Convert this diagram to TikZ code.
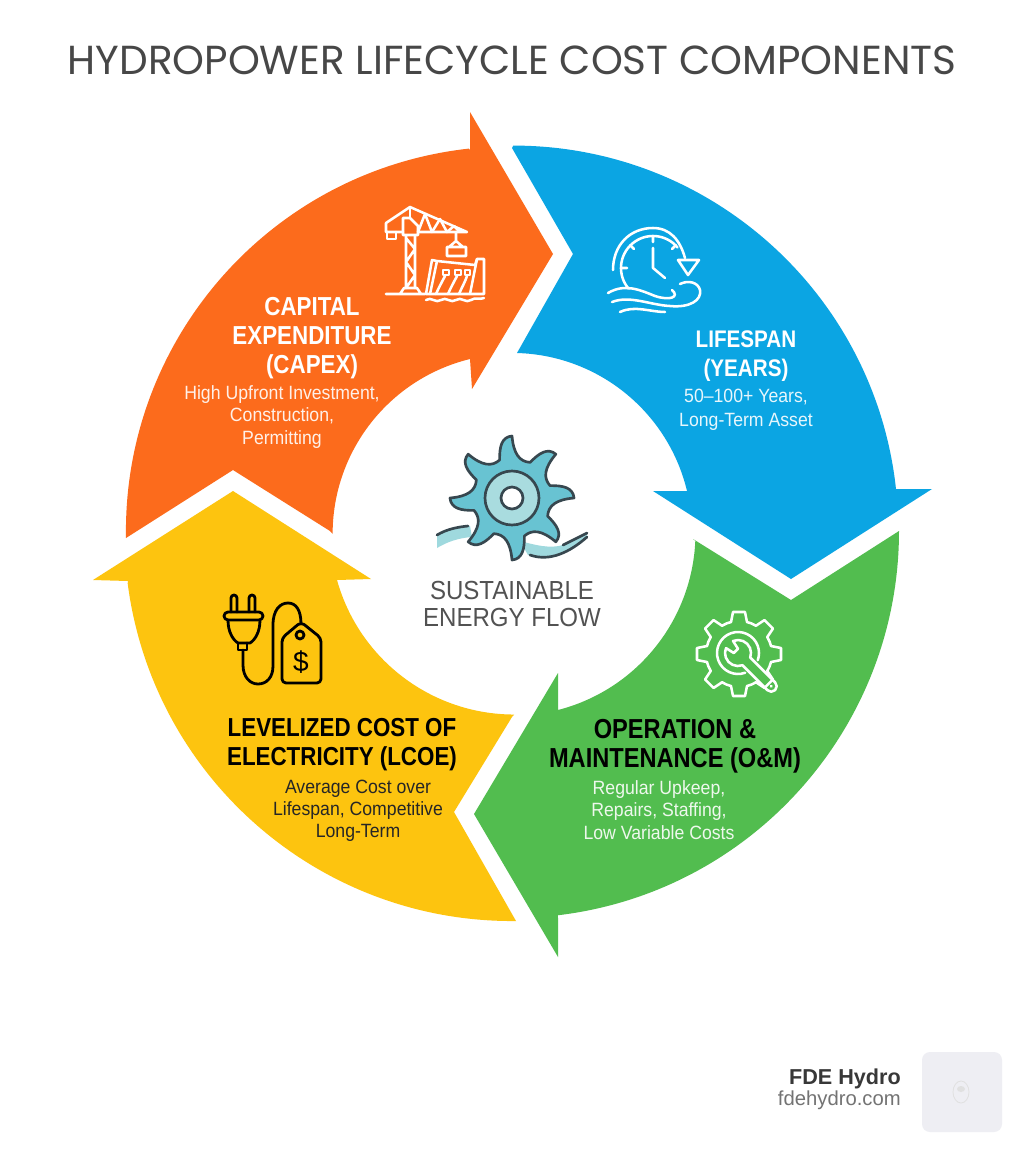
\documentclass[tikz,border=0pt]{standalone}
\usepackage{fontspec}
\setmainfont{Liberation Sans}
\newfontfamily\titlefont{Poppins}
\newfontfamily\headfont[FakeStretch=0.86]{Liberation Sans}
\newfontfamily\subfont[FakeStretch=0.92]{Liberation Sans}
\definecolor{capexorange}{HTML}{FC6B1C}
\definecolor{lifeblue}{HTML}{0BA5E3}
\definecolor{omgreen}{HTML}{52BD4F}
\definecolor{lcoeyellow}{HTML}{FDC40F}
\definecolor{turbineink}{HTML}{37474F}
\definecolor{turbineblade}{HTML}{68C3D2}
\definecolor{turbinehub}{HTML}{A9DCDF}
\definecolor{waterband}{HTML}{9FD9DE}
\definecolor{logotile}{HTML}{EEEEF3}
\usetikzlibrary{positioning}
\tikzset{
  heading/.style={font=\headfont\bfseries\fontsize{19.5}{21.6}\selectfont},
  detail/.style={font=\subfont\fontsize{14.4}{16.6}\selectfont},
  whiteicon/.style={draw=white,line width=1.9pt,line join=round,line cap=round},
  blackicon/.style={draw=black,line width=2.1pt,line join=round,line cap=round},
  turbineline/.style={draw=turbineink,line width=2pt,line join=round,line cap=round}
}
\begin{document}
\begin{tikzpicture}[x=0.75pt,y=-0.75pt,align=center]
  \useasboundingbox (0,0) rectangle (1024,1154);
  \fill[white] (0,0) rectangle (1024,1154);
  \node (title) at (512,60) [font=\titlefont\fontsize{30.4}{34}\selectfont,text=black!72] {HYDROPOWER LIFECYCLE COST COMPONENTS};
  % the four arrows
  \fill[capexorange] (126,538) arc[start angle=179,end angle=263.7,radius=385] -- (470,150) -- (470,112) -- (553,254) -- (472,389) -- (470,359)
    arc[start angle=256.3,end angle=180,radius=180] -- (330,531) -- (233,470) -- cycle;
  \fill[lifeblue] (896,489) arc[start angle=-6.2,end angle=-90,radius=385] -- (512,148) -- (573,254) -- (517,353)
    arc[start angle=-88.4,end angle=-12.8,radius=180] -- (688,491) -- (653,491) -- (791,579) -- (932,489) -- cycle;
  \fill[omgreen] (899,531) arc[start angle=0,end angle=83.2,radius=387] -- (558,918) -- (558,957) -- (474,814) -- (558,673) -- (558,710)
    arc[start angle=75.6,end angle=2.5,radius=183] -- (693,539) -- (791,600) -- cycle;
  \fill[lcoeyellow] (516,921) arc[start angle=89.4,end angle=172.6,radius=387.5] -- (128,581) -- (93,580) -- (233,491) -- (371,579) -- (337,580)
    arc[start angle=164.4,end angle=90,radius=184] -- (512,717) -- (454,812) -- cycle;
  % labels
  \node (capexhead) at (312,338) [heading,text=white] {CAPITAL\\EXPENDITURE\\(CAPEX)};
  \node (capexnote) at (282,417) [detail,text=white!90!capexorange] {High Upfront Investment,\\Construction,\\Permitting};
  \node (lifehead) at (746,356) [heading,font=\headfont\bfseries\fontsize{18}{21.6}\selectfont,text=white] {LIFESPAN\\(YEARS)};
  \node (lifenote) at (746,410) [detail,font=\subfont\fontsize{14.4}{17.6}\selectfont,text=white!90!lifeblue] {50–100+ Years,\\Long-Term Asset};
  \node (omhead) at (675,746) [heading,font=\headfont\bfseries\fontsize{20.6}{21.6}\selectfont,text=black] {OPERATION \&\\MAINTENANCE (O\&M)};
  \node (omnote) at (659,810) [detail,text=white!90!omgreen] {Regular Upkeep,\\Repairs, Staffing,\\Low Variable Costs};
  \node (lcoehead) at (342,745) [heading,text=black] {LEVELIZED COST OF\\ELECTRICITY (LCOE)};
  \node (lcoenote) at (358,811) [detail,text=black!85] {Average Cost over\\Lifespan, Competitive\\Long-Term};
  \node (centre) at (512,604) [font=\subfont\fontsize{19.6}{20.6}\selectfont,text=black!68] {SUSTAINABLE\\ENERGY FLOW};
  % turbine
  \fill[waterband] (437,535) .. controls (447,529) and (458,527) .. (470,526) -- (472,537) .. controls (458,538) and (447,542) .. (437,548) -- cycle;
  \fill[waterband] (520,541) .. controls (535,545) and (550,549) .. (563,545) -- (587,533) -- (587,537) .. controls (570,552) and (550,562) .. (528,555) -- cycle;
  \draw[turbineline] (437,535) .. controls (447,529) and (458,527) .. (468,526);
  \draw[turbineline] (563,545) -- (587,533);
  \draw[turbineline] (530,555) .. controls (550,562) and (570,552) .. (587,537);
  \begin{scope}[shift={(512,498)}]
    \draw[turbineline,fill=turbineblade] (-108:40)
      \foreach \a in {-90,-45,...,225} {
        .. controls (\a-14:52) and (\a-10:62) .. (\a:62) .. controls (\a+2:44) and (\a+12:37) .. (\a+27:40)
      } -- cycle;
    \draw[turbineline,fill=turbinehub] (0,0) circle[radius=27];
    \draw[turbineline,fill=white] (0,0) circle[radius=11];
  \end{scope}
  % crane and dam
  \draw[whiteicon] (386,294) -- (425,294) (400,294) -- (404,288) -- (417,288) -- (421,294);
  \draw[whiteicon] (406,288) -- (406,236) (415,288) -- (415,236)
    (406,288) -- (415,275) -- (406,262) -- (415,249) -- (406,238);
  \draw[whiteicon] (410,207) -- (467,232) -- (418,232) (410,207) -- (386,223) -- (386,232) -- (403,232);
  \draw[whiteicon] (387,232) -- (387,239) -- (396,239) -- (396,232) (410,207) -- (410,218);
  \draw[whiteicon] (403,218) -- (410,218) -- (418,226) -- (418,235) -- (403,235) -- cycle;
  \draw[whiteicon] (418,232) -- (425,214) -- (432,232) -- (440,219) -- (447,232) -- (454,226) -- (460,232);
  \draw[whiteicon] (456,232) -- (456,241) -- (449,247) (456,241) -- (463,247) (447,247) rectangle (466,256);
  \draw[whiteicon] (426,294) -- (432,260) -- (437,261) -- (475,265) -- (477,259) -- (484,259) -- (484,294) -- cycle;
  \draw[whiteicon] (437,261) -- (430,294) (477,259) -- (470,294);
  \draw[whiteicon] (443,270) rectangle (449,275) (455,270) rectangle (461,275) (465,270) rectangle (470,275);
  \draw[whiteicon] (436,294) .. controls (440,285) and (442,282) .. (445,276) (448,294) .. controls (452,285) and (454,282) .. (457,276) (459,294) .. controls (463,285) and (465,282) .. (467,276);
  \draw[whiteicon] (426,300) .. controls (431,296) and (436,304) .. (441,300) .. controls (446,296) and (451,304) .. (456,300) .. controls (461,296) and (466,304) .. (471,300) .. controls (475,297) and (480,300) .. (484,298);
  % clock
  \draw[whiteicon] (613,270) .. controls (613,245) and (630,228) .. (653,228) .. controls (670,228) and (680,240) .. (685,258);
  \draw[whiteicon] (678,260) -- (699,260) -- (688,275) -- cycle;
  \begin{scope}[shift={(653,268)}]
    \draw[whiteicon] (140:32) arc[start angle=140,end angle=320,radius=32];
    \draw[whiteicon] (270:32) -- (270:26) (180:32) -- (180:26) (225:32) -- (225:27) (315:32) -- (315:27);
    \draw[whiteicon] (0,-20) -- (0,0) -- (12,10);
  \end{scope}
  \draw[whiteicon] (608,293) .. controls (625,283) and (640,290) .. (655,296) .. controls (670,301) and (680,297) .. (672,290);
  \draw[whiteicon] (612,302) .. controls (630,295) and (650,305) .. (670,306) .. controls (690,308) and (702,300) .. (700,290) .. controls (698,282) and (688,280) .. (680,284);
  \draw[whiteicon] (620,312) .. controls (635,305) and (650,312) .. (665,312);
  % gear and wrench
  \begin{scope}[shift={(739,654)}]
    \foreach \a in {0,45,...,315}
      \draw[whiteicon,rotate=\a] (32,-8) -- (42,-6) -- (42,6) -- (32,8) arc[start angle=14,end angle=31,radius=33];
  \end{scope}
  \begin{scope}[shift={(738,653)},rotate=-45]
    \draw[whiteicon] (25:21) arc[start angle=25,end angle=335,radius=21];
    \draw[whiteicon] (-12,5) -- (-3,3) -- (-3,-3) -- (-12,-5)
      arc[start angle=-157.4,end angle=-25,radius=13] -- (47,-5.5)
      arc[start angle=-90,end angle=90,radius=5.5] -- (11.8,5.5)
      arc[start angle=25,end angle=157.4,radius=13] -- cycle;
    \fill[white] (47,0) circle[radius=1.5];
  \end{scope}
  % plug and price tag
  \draw[blackicon] (231,612) -- (231,598) arc[start angle=180,end angle=360,radius=3] -- (237,612);
  \draw[blackicon] (249,612) -- (249,598) arc[start angle=180,end angle=360,radius=3] -- (255,612);
  \draw[blackicon,rounded corners=3] (224,612) rectangle (263,620);
  \draw[blackicon] (228,620) .. controls (228,632) and (233,640) .. (238,643) -- (250,643) .. controls (255,640) and (260,632) .. (260,620);
  \draw[blackicon] (238,643) -- (238,650) -- (247,650) -- (247,643);
  \draw[blackicon] (243,650) -- (243,665) .. controls (243,677) and (250,684) .. (258,684) .. controls (267,684) and (273,677) .. (273,666) -- (273,625) .. controls (273,610) and (280,603) .. (288,603) .. controls (296,603) and (301,610) .. (301,624);
  \draw[blackicon,rounded corners=3] (301,622) -- (321,638) -- (321,683) -- (282,683) -- (282,638) -- cycle;
  \draw[blackicon] (300,635) circle[radius=4];
  \node (dollar) at (301,662) [font=\fontsize{21}{21}\selectfont] {\$};
  % footer
  \fill[logotile,rounded corners=6] (922,1052) rectangle (1002,1132);
  \draw[black!12,line width=0.6pt] (961,1092) ellipse[x radius=8,y radius=11];
  \fill[black!12] (961,1089) ellipse[x radius=4,y radius=3];
  \node (brand) [anchor=east,inner sep=0pt,font=\bfseries\fontsize{16.2}{18}\selectfont,text=black!78] at (901,1079) {FDE Hydro};
  \node (site) [anchor=east,inner sep=0pt,font=\fontsize{15.2}{17}\selectfont,text=black!55] at (901,1100) {fdehydro.com};
\end{tikzpicture}
\end{document}
